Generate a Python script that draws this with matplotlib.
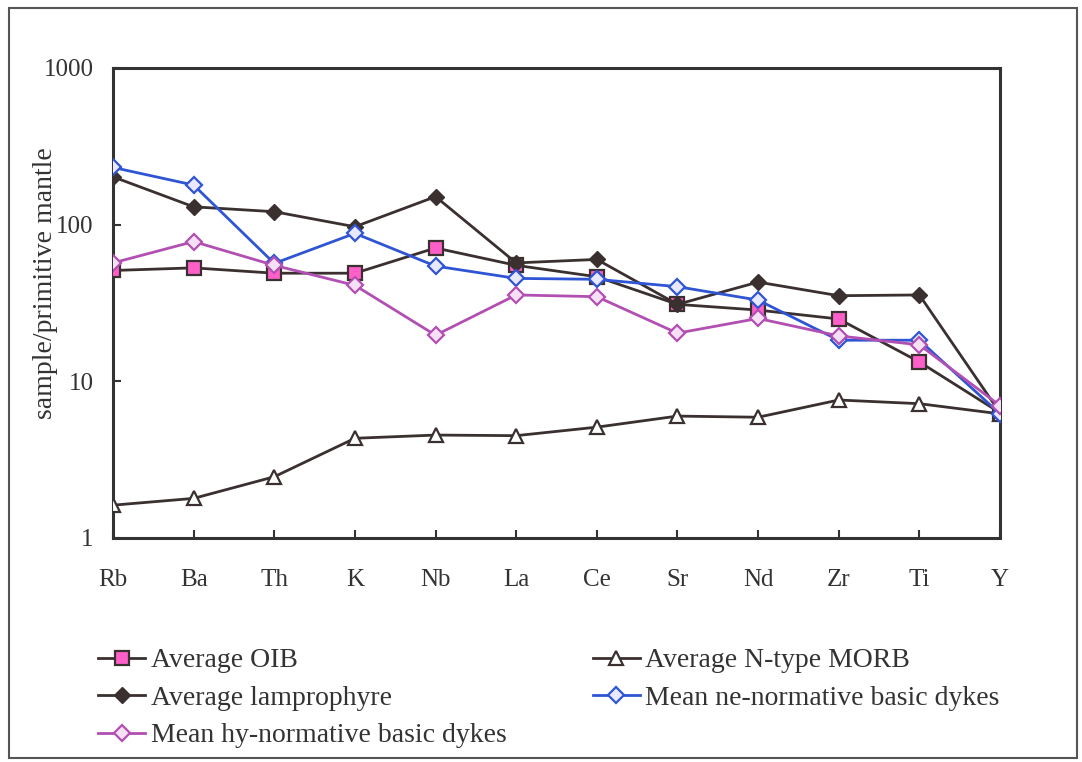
import matplotlib
matplotlib.use('Agg')
import matplotlib.pyplot as plt
from matplotlib.patches import Rectangle

plt.rcParams['font.family'] = ['Liberation Serif', 'DejaVu Serif']

elements = ['Rb', 'Ba', 'Th', 'K', 'Nb', 'La', 'Ce', 'Sr', 'Nd', 'Zr', 'Ti', 'Y']

oib = [51, 53, 49, 49, 71, 55, 46.5, 31, 28.5, 25, 13.3, 6.3]
morb = [1.62, 1.79, 2.46, 4.33, 4.54, 4.5, 5.1, 6.0, 5.9, 7.6, 7.2, 6.2]
lamprophyre = [202, 130, 121, 97, 151, 57, 60, 31, 43, 35.2, 35.6, 6.3]
ne_dykes = [232, 179, 56.6, 88, 54.4, 45.4, 44.8, 40.2, 33, 18.3, 18.3, 6.2]
hy_dykes = [57, 78, 55, 41, 19.7, 35.6, 34.7, 20.3, 25.2, 19.5, 17.1, 7.0]

dark = '#3a3030'
pink = '#ff5fc8'
blue = '#2f55d4'
magenta = '#b24fb2'

fig = plt.figure(figsize=(10.82, 7.62), dpi=100)
fig.patch.set_facecolor('white')
ax = fig.add_axes([113 / 1082, 1 - 538 / 762, 887 / 1082, 470 / 762])

x = list(range(len(elements)))
lw = 2.0
l_oib, = ax.plot(x, oib, color=dark, lw=lw, marker='s', ms=10,
                 mfc=pink, mec=dark, mew=1.6, label='Average OIB', zorder=3)
l_morb, = ax.plot(x, morb, color=dark, lw=lw, marker='^', ms=10,
                  mfc='white', mec=dark, mew=1.6, label='Average N-type MORB', zorder=3)
l_lam, = ax.plot(x, lamprophyre, color=dark, lw=lw, marker='D', ms=8,
                 mfc=dark, mec=dark, label='Average lamprophyre', zorder=4)
l_ne, = ax.plot(x, ne_dykes, color=blue, lw=lw, marker='D', ms=8,
                mfc='#e8e8ff', mec=blue, mew=1.6, label='Mean ne-normative basic dykes', zorder=5)
l_hy, = ax.plot(x, hy_dykes, color=magenta, lw=lw, marker='D', ms=8,
                mfc='#f5e0f5', mec=magenta, mew=1.6, label='Mean hy-normative basic dykes', zorder=6)

ax.set_yscale('log')
ax.set_ylim(1, 1000)
ax.set_xlim(0, len(elements) - 1)
ax.set_yticks([1, 10, 100, 1000])
ax.set_yticklabels(['1', '10', '100', '1000'])
ax.minorticks_off()
ax.set_xticks(x)
ax.set_xticklabels(elements)
ax.tick_params(axis='both', direction='in', length=6, width=1.5, colors='#333333',
               labelsize=18)
ax.tick_params(axis='x', pad=22)
ax.tick_params(axis='y', pad=14)
for s in ax.spines.values():
    s.set_linewidth(2.2)
    s.set_color('#333333')

ax.set_ylabel('sample/primitive mantle', fontsize=20, color='#333333')
ax.yaxis.set_label_coords(-0.062, 0.543)

fig.legend(handles=[l_oib, l_lam, l_hy, l_morb, l_ne], ncol=2,
           loc='upper left', bbox_to_anchor=(98 / 1082, 1 - 648 / 762),
           frameon=False, fontsize=20, handlelength=1.7, handletextpad=0.2,
           labelspacing=0.43, columnspacing=3.1, borderpad=0, borderaxespad=0,
           labelcolor='#333333')

fig.patches.append(Rectangle((9 / 1082, 1 - 758 / 762), 1068 / 1082, 750 / 762,
                             transform=fig.transFigure, fill=False,
                             edgecolor='#555555', lw=1.5))

fig.savefig('out.png', dpi=100)
